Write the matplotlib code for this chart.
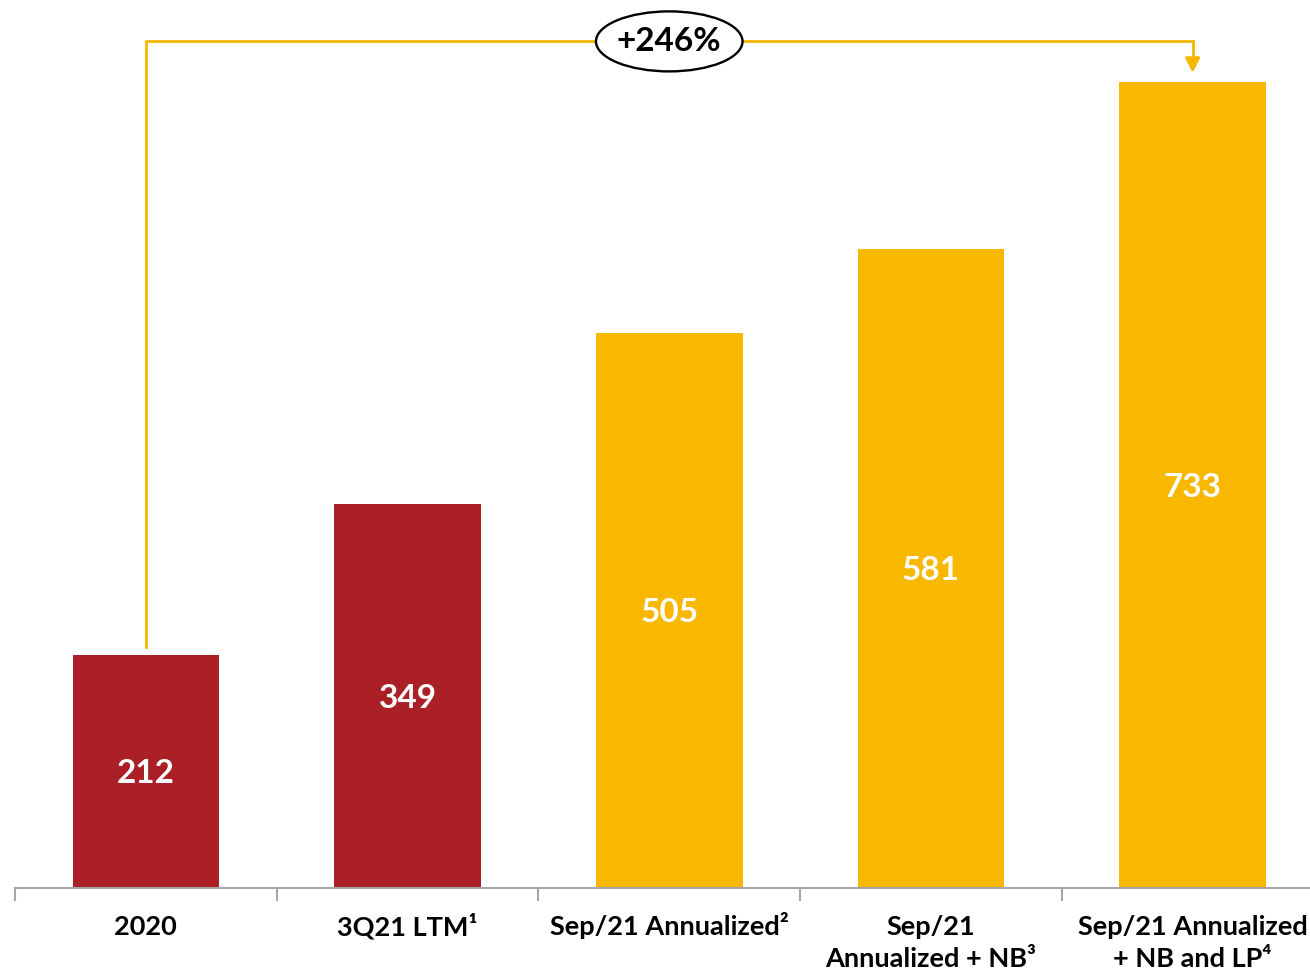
import matplotlib.pyplot as plt
from matplotlib.patches import Ellipse

plt.rcParams['font.family'] = ['Lato', 'DejaVu Sans']

categories = ['2020', '3Q21 LTM¹', 'Sep/21 Annualized²',
              'Sep/21\nAnnualized + NB³', 'Sep/21 Annualized\n+ NB and LP⁴']
values = [212, 349, 505, 581, 733]
growth_label = '+246%'

red = '#AB1F26'
gold = '#F9B800'
colors = [red, red, gold, gold, gold]

fig = plt.figure(figsize=(13.1, 9.74), dpi=100)
px = 1.1  # pixels per unit
ax = fig.add_axes([15 / 1310, 1 - 888 / 974, 5 * 261.7 / 1310, 888 / 974])
ax.set_xlim(-0.5, 4.5)
ax.set_ylim(0, 888 / px)

x = list(range(len(values)))
bars = ax.bar(x, values, width=0.56, color=colors)

for xi, v in zip(x, values):
    ax.text(xi, v / 2 - 2, str(v), ha='center', va='center', color='white',
            fontsize=24, fontweight='bold')

for s in ['top', 'right', 'left']:
    ax.spines[s].set_visible(False)
ax.spines['bottom'].set_color('#A6A6A6')
ax.spines['bottom'].set_linewidth(1.5)
ax.set_yticks([])

ax.set_xticks([i - 0.5 for i in range(len(values) + 1)])
ax.set_xticklabels([])
ax.tick_params(axis='x', length=9, width=1.5, color='#A6A6A6', direction='out')
# each label line placed on a common baseline
for xi, lab in zip(x, categories):
    for k, line in enumerate(lab.split('\n')):
        ax.text(xi, -43 - 29 * k, line, ha='center', va='baseline',
                fontsize=19.5, fontweight='bold', clip_on=False)

# growth bracket
y_top = max(values) * 1.05
line_col = '#F5B800'
ax.plot([0, 0, 4, 4], [values[0] + 7, y_top, y_top, values[-1] + 20],
        color=line_col, lw=2, clip_on=False, solid_joinstyle='miter')
ax.annotate('', xy=(4, values[-1] + 8), xytext=(4, values[-1] + 22),
            arrowprops=dict(arrowstyle='-|>', color=line_col, lw=2,
                            mutation_scale=22, shrinkA=0, shrinkB=0))
ell = Ellipse((2, y_top), 0.56, 60 / px, facecolor='white',
              edgecolor='black', lw=1.7, zorder=5, clip_on=False)
ax.add_patch(ell)
ax.text(2, y_top, growth_label, ha='center', va='center', fontsize=24,
        fontweight='bold', zorder=6)

plt.savefig('out.png', dpi=100)
